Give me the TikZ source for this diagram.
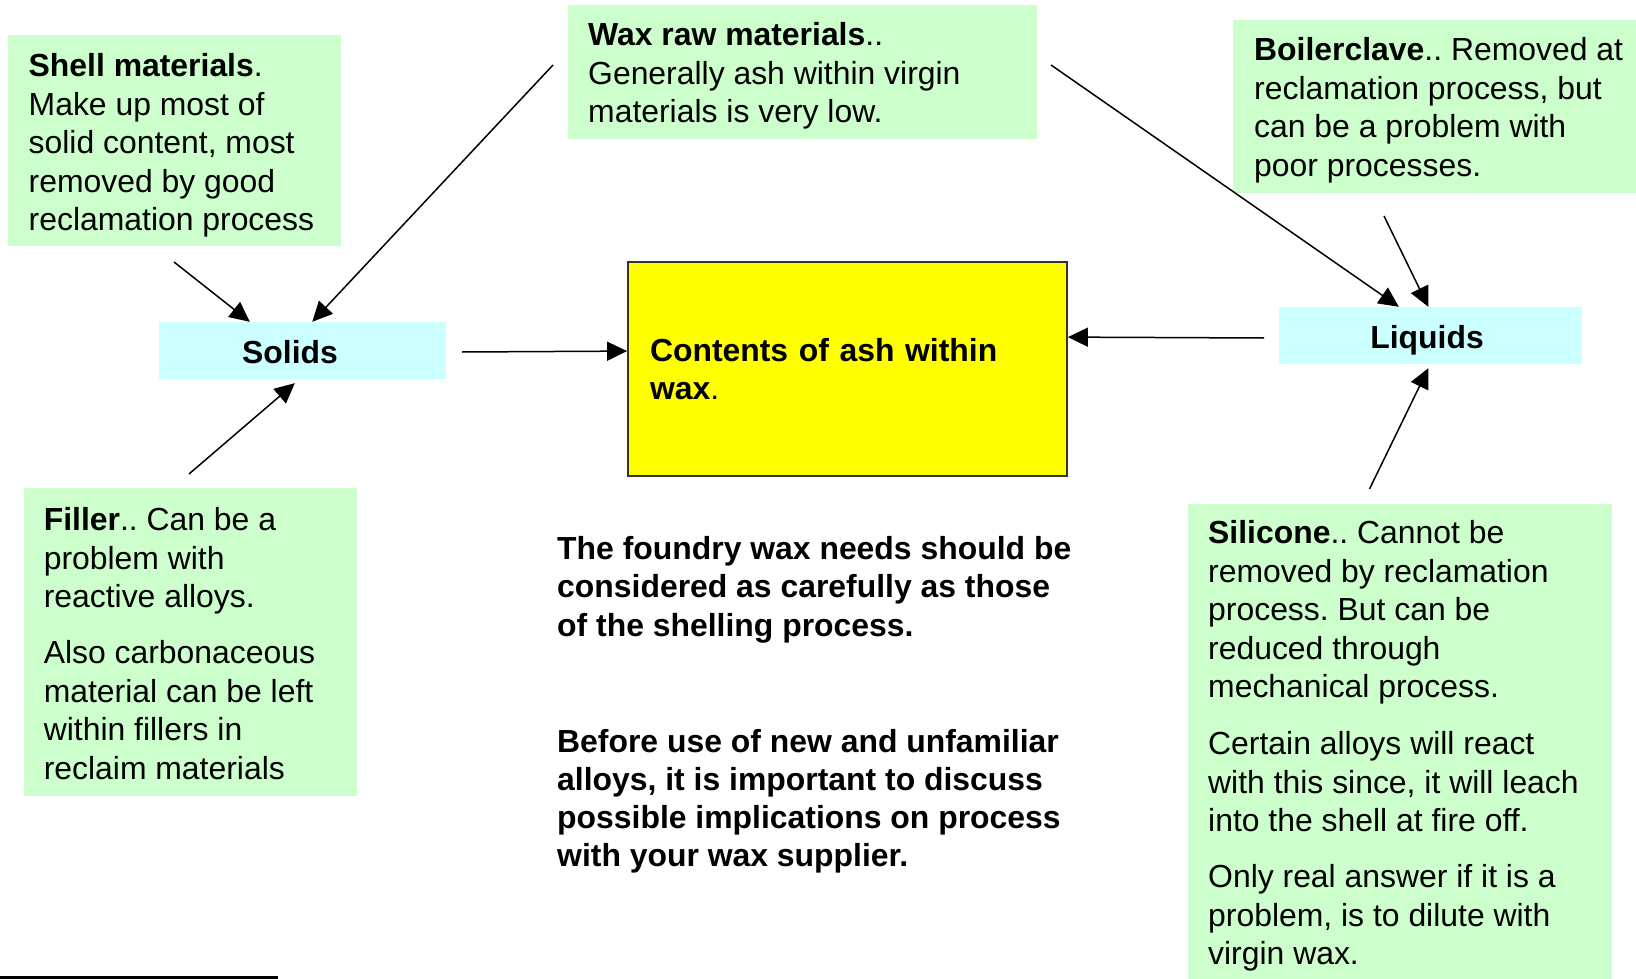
\documentclass[tikz,border=0pt]{standalone}
\usepackage{fontspec}
\setmainfont{Liberation Sans}
\usetikzlibrary{arrows.meta,calc}
\definecolor{notegreen}{HTML}{CCFFCC}
\definecolor{tagcyan}{HTML}{CCFFFF}
\definecolor{waxyellow}{HTML}{FFFF00}
\frenchspacing
\begin{document}
\begin{tikzpicture}[x=1pt,y=-1pt,
  note/.style={fill=notegreen, inner sep=0pt, anchor=north west, font=\frenchspacing\fontsize{31.9pt}{38.5pt}\selectfont},
  tag/.style={fill=tagcyan, inner sep=0pt, minimum height=57pt, text height=29.5pt, text depth=3pt, font=\bfseries\fontsize{31.9pt}{38.5pt}\selectfont},
  centrebox/.style={draw=black!80, line width=1.8pt, fill=waxyellow, minimum width=439pt, minimum height=214pt, text width=395pt, inner xsep=22pt, align=left, font=\bfseries\fontsize{31.9pt}{37.5pt}\selectfont},
  remark/.style={anchor=base west, inner sep=0pt, font=\frenchspacing\bfseries\fontsize{31.9pt}{38.7pt}\selectfont},
  arr/.style={line width=1.5pt, -{Triangle[length=20pt,width=19pt]}}]
\useasboundingbox (0,0) rectangle (1636,979);

% green notes
\node[note] (shell) at (8,35) {\hspace*{20.5pt}\parbox[t][211pt][t]{312.5pt}{\raggedright\rule{0pt}{41.5pt}\textbf{Shell materials}.\\Make up most of\\solid content, most\\removed by good\\reclamation process}};
\node[note] (wax) at (568,5) {\hspace*{20pt}\parbox[t][134pt][t]{449pt}{\raggedright\rule{0pt}{40.5pt}\textbf{Wax raw materials}..\\Generally ash within virgin\\materials is very low.}};
\node[note] (boiler) at (1233,20) {\hspace*{21pt}\parbox[t][173pt][t]{382pt}{\raggedright\rule{0pt}{40.5pt}\textbf{Boilerclave}.. Removed at\\reclamation process, but\\can be a problem with\\poor processes.}};
\node[note] (filler) at (24,488) {\hspace*{19.6pt}\parbox[t][308pt][t]{313.4pt}{\raggedright\rule{0pt}{42.5pt}\textbf{Filler}.. Can be a\\problem with\\reactive alloys.\\[17.5pt]Also carbonaceous\\material can be left\\within fillers in\\reclaim materials}};
\node[note] (silicone) at (1188,504) {\hspace*{20pt}\parbox[t][475pt][t]{404pt}{\raggedright\rule{0pt}{39.5pt}\textbf{Silicone}.. Cannot be\\removed by reclamation\\process. But can be\\reduced through\\mechanical process.\\[18.5pt]Certain alloys will react\\with this since, it will leach\\into the shell at fire off.\\[17.5pt]Only real answer if it is a\\problem, is to dilute with\\virgin wax.}};

% category tags
\node[tag, minimum width=287pt] (solids) at (302.5,350.5) {\hspace*{-25pt}Solids};
\node[tag, minimum width=303pt] (liquids) at (1430.5,335.5) {\hspace*{-7pt}Liquids};

% centre box
\node[centrebox] (contents) at (847.5,369) {Contents of ash within\\wax\textmd{.}};

% remarks
\node[remark] (remarkA) at (557,559) {\parbox[t]{540pt}{\raggedright The foundry wax needs should be\\considered as carefully as those\\of the shelling process.}};
\node[remark, font=\frenchspacing\bfseries\fontsize{31.9pt}{38.3pt}\selectfont] (remarkB) at (557,752) {\parbox[t]{540pt}{\raggedright Before use of new and unfamiliar\\alloys, it is important to discuss\\possible implications on process\\with your wax supplier.}};

% connector tails
\coordinate (tShell) at (174,262);
\coordinate (tWaxL) at (553,65);
\coordinate (tFiller) at (189,474);
\coordinate (tSolids) at (462,352);
\coordinate (tWaxR) at (1051,65);
\coordinate (tBoiler) at (1384,216);
\coordinate (tLiquids) at (1264,338);
\coordinate (tSilicone) at (1369.5,489);

\draw[arr] (tShell) -- ($(solids.north west)+(91,0)$);
\draw[arr] (tWaxL) -- ($(solids.north west)+(153.5,0)$);
\draw[arr] (tFiller) -- ($(solids.south west)+(136,4)$);
\draw[arr] (tSolids) -- ($(contents.north west)+(0,90)$);
\draw[arr] (tWaxR) -- ($(liquids.north west)+(120,0)$);
\draw[arr] (tBoiler) -- ($(liquids.north west)+(149.5,0)$);
\draw[arr] (tLiquids) -- ($(contents.north east)+(0,76)$);
\draw[arr] (tSilicone) -- ($(liquids.south west)+(149.5,4)$);

% short rule at lower left
\draw[line width=3pt] (0,977.5) -- (277.5,977.5);
\end{tikzpicture}
\end{document}
